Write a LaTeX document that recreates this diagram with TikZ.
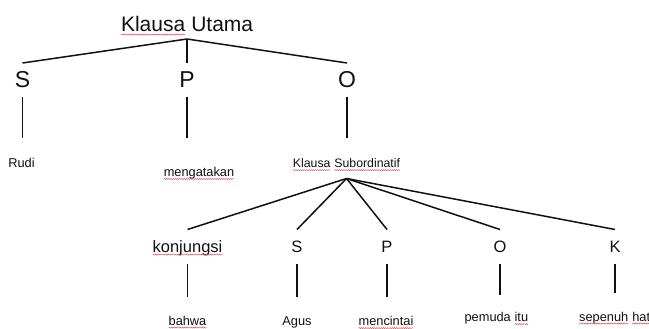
\documentclass[tikz,border=0pt]{standalone}
\usepackage{fontspec}
\setmainfont{Liberation Sans}
\usetikzlibrary{decorations.pathmorphing}
\definecolor{ink}{HTML}{111111}
\definecolor{wavecol}{HTML}{E05050}
\newcommand\wavy[1]{\tikz[baseline=(wv.base)]{\node[inner sep=0pt,outer sep=0pt,anchor=base,draw=none](wv){#1};\draw[wavecol,line width=0.45pt,decorate,decoration={snake,amplitude=0.55pt,segment length=2.2pt}]([yshift=-2.6pt]wv.base west)--([yshift=-2.6pt]wv.base east);}}
\begin{document}
\begin{tikzpicture}[x=1pt,y=-1pt,
  edge/.style={line width=1.5pt,draw=ink},
  txt/.style={inner sep=0pt,outer sep=0pt,anchor=base,text=ink},
  top/.style={txt,font=\fontsize{21}{25}\selectfont},
  labA/.style={txt,font=\fontsize{23}{27}\selectfont},
  labB/.style={txt,font=\fontsize{16.5}{20}\selectfont},
  leaf/.style={txt,font=\fontsize{12.8}{15}\selectfont},
  leafs/.style={txt,font=\fontsize{12.3}{15}\selectfont}]
\fill[white] (0,0) rectangle (649,329);
\useasboundingbox (0,0) rectangle (649,329);
% top
\node[top] (ku) at (187,32) {\wavy{Klausa} Utama};
\coordinate (j1) at ([yshift=-7pt]ku.base);
% level 1
\node[labA] (s1) at (22.5,88) {S};
\node[labA] (p1) at (187,88) {P};
\node[labA] (o1) at (347,88) {O};
\draw[edge] (j1) -- ([yshift=25pt]s1.base);
\draw[edge] (j1) -- ([yshift=25pt]p1.base);
\draw[edge] (j1) -- ([yshift=25pt]o1.base);
% level 1 leaves
\node[leaf] (rudi) at (21.5,167.7) {Rudi};
\node[leaf] (meng) at (199,176.4) {\wavy{mengatakan}};
\node[leafs] (ks) at (346.5,167.5) {\wavy{Klausa} \wavy{Subordinatif}};
\draw[edge] ([yshift=-9pt]s1.base) -- ([yshift=29.7pt]s1.base |- rudi.base);
\draw[edge] ([yshift=-9pt]p1.base) -- ([yshift=38.4pt]p1.base |- meng.base);
\draw[edge] ([yshift=-9pt]o1.base) -- ([yshift=29.5pt]o1.base |- ks.base);
\coordinate (j2) at ([yshift=-11pt]ks.base);
% level 2
\node[labB] (konj) at (187.5,252) {\wavy{konjungsi}};
\node[labB] (s2) at (297,252) {S};
\node[labB] (p2) at (387,252) {P};
\node[labB] (o2) at (500,252) {O};
\node[labB] (k2) at (615,252) {K};
\foreach \n in {konj,s2,p2,o2,k2}
  \draw[edge] (j2) -- ([yshift=22.5pt]\n.base);
% level 2 leaves
\node[leaf] (bahwa) at (187.5,325) {\wavy{bahwa}};
\node[leaf] (agus) at (297,325) {Agus};
\node[leaf] (menc) at (386,325.5) {\wavy{mencintai}};
\node[leaf] (pemuda) at (496.5,321.5) {pemuda \wavy{itu}};
\node[leaf,anchor=base west] (sep) at (579,321) {\wavy{sepenuh} \wavy{hat}};
\draw[edge] ([yshift=-11.5pt]konj.base) -- ([yshift=28.5pt]konj.base |- bahwa.base);
\draw[edge] ([yshift=-11.5pt]s2.base) -- ([yshift=28.5pt]s2.base |- agus.base);
\draw[edge] ([yshift=-11.5pt]p2.base) -- ([yshift=29pt]p2.base |- menc.base);
\draw[edge] ([yshift=-11.5pt]o2.base) -- ([yshift=26.5pt]o2.base |- pemuda.base);
\draw[edge] ([yshift=-11.5pt]k2.base) -- ([yshift=28pt]k2.base |- sep.base);
\end{tikzpicture}
\end{document}
